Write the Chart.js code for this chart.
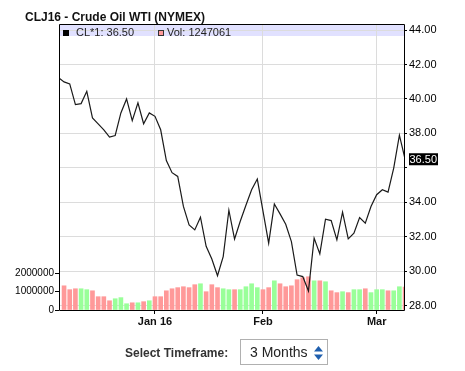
<!DOCTYPE html>
<html><head><meta charset="utf-8">
<script src="https://cdn.jsdelivr.net/npm/chart.js@4.4.1/dist/chart.umd.min.js"></script>
<style>
html,body{margin:0;padding:0;background:#fff;}
#wrap{position:relative;width:465px;height:371px;overflow:hidden;}
#c{position:absolute;left:0;top:0;}
#title{position:absolute;left:25px;top:10px;font:bold 12px Arial,"Liberation Sans",sans-serif;color:#111;white-space:nowrap;line-height:14px;}
#tf{position:absolute;left:125px;top:346px;font:bold 12px Arial,"Liberation Sans",sans-serif;color:#333;white-space:nowrap;line-height:14px;}
#sel{position:absolute;left:240px;top:339px;width:88px;height:26px;border:1px solid #b0b0b0;box-sizing:border-box;background:#fff;}
#sel span{position:absolute;left:9px;top:4px;font:14px Arial,"Liberation Sans",sans-serif;color:#222;white-space:nowrap;line-height:16px;}
#sel svg{position:absolute;left:73px;top:6px;}
</style>
</head><body>
<div id="wrap">
<canvas id="c" width="465" height="371"></canvas>
<div id="title">CLJ16 - Crude Oil WTI (NYMEX)</div>
<div id="tf">Select Timeframe:</div>
<div id="sel"><span>3 Months</span><svg width="9" height="14" viewBox="0 0 9 14"><polygon points="4.5,0 9,5.5 0,5.5" fill="#1f5fae"/><polygon points="0,8.5 9,8.5 4.5,14" fill="#1f5fae"/></svg></div>
</div>
<script>
// ---- data (trading days; the first one lies just left of the visible window) ----
const dates = [
 '2015-12-08','2015-12-09','2015-12-10','2015-12-11','2015-12-14','2015-12-15','2015-12-16','2015-12-17','2015-12-18',
 '2015-12-21','2015-12-22','2015-12-23','2015-12-24','2015-12-28','2015-12-29','2015-12-30','2015-12-31',
 '2016-01-04','2016-01-05','2016-01-06','2016-01-07','2016-01-08','2016-01-11','2016-01-12','2016-01-13','2016-01-14','2016-01-15',
 '2016-01-19','2016-01-20','2016-01-21','2016-01-22','2016-01-25','2016-01-26','2016-01-27','2016-01-28','2016-01-29',
 '2016-02-01','2016-02-02','2016-02-03','2016-02-04','2016-02-05','2016-02-08','2016-02-09','2016-02-10','2016-02-11','2016-02-12',
 '2016-02-16','2016-02-17','2016-02-18','2016-02-19','2016-02-22','2016-02-23','2016-02-24','2016-02-25','2016-02-26','2016-02-29',
 '2016-03-01','2016-03-02','2016-03-03','2016-03-04','2016-03-07','2016-03-08'
];
const prices = [
 41.24,40.99,40.87,39.67,39.73,40.44,38.90,38.55,38.21,
 37.79,37.88,39.19,40.00,38.74,39.77,38.56,39.19,
 38.99,38.21,36.42,35.72,35.50,33.76,32.69,32.40,33.14,31.45,
 30.71,29.74,30.85,33.54,31.87,32.90,33.83,34.73,35.35,
 33.49,31.63,33.90,33.33,32.73,31.72,29.78,29.69,28.85,31.92,
 31.01,33.02,32.94,31.82,33.43,31.88,32.21,33.12,32.79,33.76,
 34.44,34.73,34.59,35.99,37.90,36.50
];
const volumes = [
 null,1310000,1100000,1150000,1150000,1100000,1040000,720000,720000,
 500000,610000,670000,340000,390000,390000,450000,500000,
 720000,720000,1040000,1150000,1210000,1260000,1210000,1370000,1420000,990000,
 1370000,1210000,1150000,1100000,1100000,1100000,1260000,1420000,1210000,
 1100000,1210000,1580000,1420000,1260000,1310000,1640000,1750000,1800000,1580000,
 1580000,1530000,1040000,940000,990000,940000,1100000,1100000,1150000,940000,
 1100000,1100000,1040000,1040000,1260000,1247061
];
const xTickDates  = ['2016-01-04','2016-02-01','2016-03-01'];
const xTickLabels = ['Jan 16','Feb','Mar'];
const priceTicks  = [28,30,32,34,36,38,40,42,44];
const volumeTicks = [0,1000000,2000000];

// ---- build ----
const FONT = 'Arial, "Liberation Sans", sans-serif';
Chart.defaults.font.family = FONT;
Chart.defaults.color = '#000';
const UP = '#99ff99', DOWN = '#ff9999';
const linePts = prices.map((p,i)=>({x:i,y:p}));
const barPts = volumes.map((v,i)=>({x:i,y:v}));
const barColors = prices.map((p,i)=> i>0 && p>=prices[i-1] ? UP : DOWN);
const xTickIdx = xTickDates.map(d=>dates.indexOf(d));
const lastPrice = prices[prices.length-1];

const decor = {
  id:'decor',
  beforeDraw(chart){
    const {ctx, chartArea:a} = chart;
    ctx.save();
    ctx.fillStyle = '#e1e1ff';
    ctx.fillRect(a.left, a.top, a.right-a.left, 12);
    ctx.restore();
  },
  afterDraw(chart){
    const {ctx, chartArea:a} = chart;
    ctx.save();
    ctx.strokeStyle = '#000'; ctx.lineWidth = 1;
    ctx.beginPath();
    ctx.moveTo(a.left+0.5, a.top+0.5); ctx.lineTo(a.right+0.5, a.top+0.5);
    ctx.lineTo(a.right+0.5, a.bottom+0.5); ctx.lineTo(a.left+0.5, a.bottom+0.5);
    ctx.closePath(); ctx.stroke();
    // legend
    const lastV = volumes[volumes.length-1];
    ctx.font = '11px ' + FONT; ctx.textBaseline = 'middle'; ctx.textAlign = 'left';
    ctx.fillStyle = '#000'; ctx.fillRect(a.left+4, a.top+6, 6, 6);
    ctx.fillStyle = '#222'; ctx.fillText('CL*1: ' + lastPrice.toFixed(2), a.left+17, a.top+8.5);
    ctx.fillStyle = DOWN; ctx.fillRect(a.left+99, a.top+6, 6, 6);
    ctx.strokeStyle = '#333'; ctx.strokeRect(a.left+99.5, a.top+6.5, 5, 5);
    ctx.fillStyle = '#222'; ctx.fillText('Vol: ' + lastV, a.left+108, a.top+8.5);
    // last price box
    const yy = chart.scales.yP.getPixelForValue(lastPrice);
    ctx.fillStyle = '#000'; ctx.fillRect(a.right+5, yy-6, 29, 12);
    ctx.fillStyle = '#fff'; ctx.fillText(lastPrice.toFixed(2), a.right+5.5, yy+0.5);
    ctx.restore();
  }
};

new Chart(document.getElementById('c'), {
  data:{
    datasets:[
      {type:'line', data:linePts, xAxisID:'x', yAxisID:'yP', borderColor:'#1a1a1a', borderWidth:1.2,
       pointRadius:0, tension:0, order:0, clip:0},
      {type:'bar', data:barPts, xAxisID:'x', yAxisID:'yV', backgroundColor:barColors, borderWidth:0,
       barThickness:4, order:1}
    ]
  },
  options:{
    responsive:false, animation:false, devicePixelRatio:1,
    layout:{padding:{top:24,left:0,right:0,bottom:0}, autoPadding:false},
    plugins:{legend:{display:false}, tooltip:{enabled:false}, title:{display:false}},
    scales:{
      x:{type:'linear', position:'bottom', min:0.112, max:60.81, offset:false, bounds:'ticks',
         afterDataLimits(s){ s.min = 0.112; s.max = 60.81; },
         afterFit(s){ s.height = 61; },
         afterBuildTicks(s){ s.ticks = xTickIdx.map(v=>({value:v})); },
         ticks:{callback:(v)=>{const k=xTickIdx.indexOf(v); return k>=0?xTickLabels[k]:'';},
                font:{size:11, weight:'bold'}, color:'#111', padding:1, maxRotation:0, autoSkip:false},
         grid:{color:'#dcdcdc', tickColor:'#000', tickLength:4, lineWidth:1, offset:false},
         border:{display:false}},
      yP:{type:'linear', position:'right', min:27.75, max:44.35,
         afterFit(s){ s.width = 61; },
         afterBuildTicks(s){ s.ticks = priceTicks.map(v=>({value:v})); },
         ticks:{callback:(v)=> Math.abs(v-lastPrice) < 0.9 ? '' : Number(v).toFixed(2),
                font:{size:11}, color:'#000', padding:2, autoSkip:false},
         grid:{color:'#dcdcdc', tickColor:'#000', tickLength:3},
         border:{display:false}},
      yV:{type:'linear', position:'left', min:0, max:15480000,
         afterFit(s){ s.width = 59; },
         afterBuildTicks(s){ s.ticks = volumeTicks.map(v=>({value:v})); },
         ticks:{callback:(v)=>String(v), font:{size:10}, color:'#000', padding:1, autoSkip:false},
         grid:{drawOnChartArea:false, tickColor:'#000', tickLength:4},
         border:{display:false}}
    }
  },
  plugins:[decor]
});
</script>
</body></html>
